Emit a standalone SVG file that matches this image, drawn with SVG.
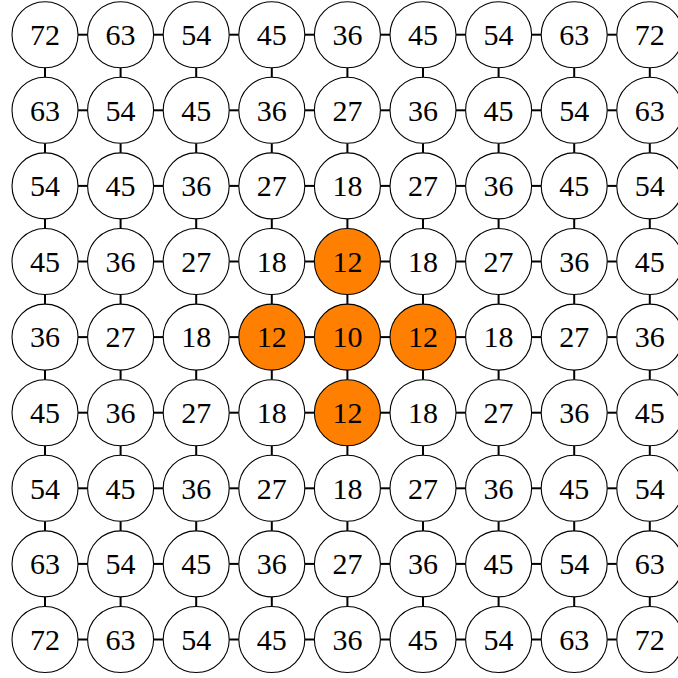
<svg xmlns="http://www.w3.org/2000/svg" width="678" height="678" viewBox="0 0 678 678">
<style>
.n circle{fill:#fff;stroke:#000;stroke-width:1.1}
.n.o circle{fill:#ff7f00}
.n text{font-family:"Liberation Serif","DejaVu Serif",serif;font-size:30px;text-anchor:middle;fill:#000}
#edges line{stroke:#000;stroke-width:2}
</style>
<rect width="678" height="678" fill="#fff"/>
<g id="edges">
<g id="h0" transform="translate(0,34.7)"><line x1="78" x2="87.6"/><line x1="153.6" x2="163.2"/><line x1="229.2" x2="238.8"/><line x1="304.8" x2="314.4"/><line x1="380.4" x2="390"/><line x1="456" x2="465.6"/><line x1="531.6" x2="541.2"/><line x1="607.2" x2="616.8"/></g>
<g id="h1" transform="translate(0,110.3)"><line x1="78" x2="87.6"/><line x1="153.6" x2="163.2"/><line x1="229.2" x2="238.8"/><line x1="304.8" x2="314.4"/><line x1="380.4" x2="390"/><line x1="456" x2="465.6"/><line x1="531.6" x2="541.2"/><line x1="607.2" x2="616.8"/></g>
<g id="h2" transform="translate(0,185.9)"><line x1="78" x2="87.6"/><line x1="153.6" x2="163.2"/><line x1="229.2" x2="238.8"/><line x1="304.8" x2="314.4"/><line x1="380.4" x2="390"/><line x1="456" x2="465.6"/><line x1="531.6" x2="541.2"/><line x1="607.2" x2="616.8"/></g>
<g id="h3" transform="translate(0,261.5)"><line x1="78" x2="87.6"/><line x1="153.6" x2="163.2"/><line x1="229.2" x2="238.8"/><line x1="304.8" x2="314.4"/><line x1="380.4" x2="390"/><line x1="456" x2="465.6"/><line x1="531.6" x2="541.2"/><line x1="607.2" x2="616.8"/></g>
<g id="h4" transform="translate(0,337.1)"><line x1="78" x2="87.6"/><line x1="153.6" x2="163.2"/><line x1="229.2" x2="238.8"/><line x1="304.8" x2="314.4"/><line x1="380.4" x2="390"/><line x1="456" x2="465.6"/><line x1="531.6" x2="541.2"/><line x1="607.2" x2="616.8"/></g>
<g id="h5" transform="translate(0,412.7)"><line x1="78" x2="87.6"/><line x1="153.6" x2="163.2"/><line x1="229.2" x2="238.8"/><line x1="304.8" x2="314.4"/><line x1="380.4" x2="390"/><line x1="456" x2="465.6"/><line x1="531.6" x2="541.2"/><line x1="607.2" x2="616.8"/></g>
<g id="h6" transform="translate(0,488.3)"><line x1="78" x2="87.6"/><line x1="153.6" x2="163.2"/><line x1="229.2" x2="238.8"/><line x1="304.8" x2="314.4"/><line x1="380.4" x2="390"/><line x1="456" x2="465.6"/><line x1="531.6" x2="541.2"/><line x1="607.2" x2="616.8"/></g>
<g id="h7" transform="translate(0,563.9)"><line x1="78" x2="87.6"/><line x1="153.6" x2="163.2"/><line x1="229.2" x2="238.8"/><line x1="304.8" x2="314.4"/><line x1="380.4" x2="390"/><line x1="456" x2="465.6"/><line x1="531.6" x2="541.2"/><line x1="607.2" x2="616.8"/></g>
<g id="h8" transform="translate(0,639.5)"><line x1="78" x2="87.6"/><line x1="153.6" x2="163.2"/><line x1="229.2" x2="238.8"/><line x1="304.8" x2="314.4"/><line x1="380.4" x2="390"/><line x1="456" x2="465.6"/><line x1="531.6" x2="541.2"/><line x1="607.2" x2="616.8"/></g>
<g id="v0" transform="translate(45,0)"><line y1="67.7" y2="77.3"/><line y1="143.3" y2="152.9"/><line y1="218.9" y2="228.5"/><line y1="294.5" y2="304.1"/><line y1="370.1" y2="379.7"/><line y1="445.7" y2="455.3"/><line y1="521.3" y2="530.9"/><line y1="596.9" y2="606.5"/></g>
<g id="v1" transform="translate(120.6,0)"><line y1="67.7" y2="77.3"/><line y1="143.3" y2="152.9"/><line y1="218.9" y2="228.5"/><line y1="294.5" y2="304.1"/><line y1="370.1" y2="379.7"/><line y1="445.7" y2="455.3"/><line y1="521.3" y2="530.9"/><line y1="596.9" y2="606.5"/></g>
<g id="v2" transform="translate(196.2,0)"><line y1="67.7" y2="77.3"/><line y1="143.3" y2="152.9"/><line y1="218.9" y2="228.5"/><line y1="294.5" y2="304.1"/><line y1="370.1" y2="379.7"/><line y1="445.7" y2="455.3"/><line y1="521.3" y2="530.9"/><line y1="596.9" y2="606.5"/></g>
<g id="v3" transform="translate(271.8,0)"><line y1="67.7" y2="77.3"/><line y1="143.3" y2="152.9"/><line y1="218.9" y2="228.5"/><line y1="294.5" y2="304.1"/><line y1="370.1" y2="379.7"/><line y1="445.7" y2="455.3"/><line y1="521.3" y2="530.9"/><line y1="596.9" y2="606.5"/></g>
<g id="v4" transform="translate(347.4,0)"><line y1="67.7" y2="77.3"/><line y1="143.3" y2="152.9"/><line y1="218.9" y2="228.5"/><line y1="294.5" y2="304.1"/><line y1="370.1" y2="379.7"/><line y1="445.7" y2="455.3"/><line y1="521.3" y2="530.9"/><line y1="596.9" y2="606.5"/></g>
<g id="v5" transform="translate(423,0)"><line y1="67.7" y2="77.3"/><line y1="143.3" y2="152.9"/><line y1="218.9" y2="228.5"/><line y1="294.5" y2="304.1"/><line y1="370.1" y2="379.7"/><line y1="445.7" y2="455.3"/><line y1="521.3" y2="530.9"/><line y1="596.9" y2="606.5"/></g>
<g id="v6" transform="translate(498.6,0)"><line y1="67.7" y2="77.3"/><line y1="143.3" y2="152.9"/><line y1="218.9" y2="228.5"/><line y1="294.5" y2="304.1"/><line y1="370.1" y2="379.7"/><line y1="445.7" y2="455.3"/><line y1="521.3" y2="530.9"/><line y1="596.9" y2="606.5"/></g>
<g id="v7" transform="translate(574.2,0)"><line y1="67.7" y2="77.3"/><line y1="143.3" y2="152.9"/><line y1="218.9" y2="228.5"/><line y1="294.5" y2="304.1"/><line y1="370.1" y2="379.7"/><line y1="445.7" y2="455.3"/><line y1="521.3" y2="530.9"/><line y1="596.9" y2="606.5"/></g>
<g id="v8" transform="translate(649.8,0)"><line y1="67.7" y2="77.3"/><line y1="143.3" y2="152.9"/><line y1="218.9" y2="228.5"/><line y1="294.5" y2="304.1"/><line y1="370.1" y2="379.7"/><line y1="445.7" y2="455.3"/><line y1="521.3" y2="530.9"/><line y1="596.9" y2="606.5"/></g>
</g>
<g id="nodes">
<g id="n0_0" class="n" transform="translate(45,34.7)"><circle r="33"/><text y="10.3">72</text></g>
<g id="n0_1" class="n" transform="translate(120.6,34.7)"><circle r="33"/><text y="10.3">63</text></g>
<g id="n0_2" class="n" transform="translate(196.2,34.7)"><circle r="33"/><text y="10.3">54</text></g>
<g id="n0_3" class="n" transform="translate(271.8,34.7)"><circle r="33"/><text y="10.3">45</text></g>
<g id="n0_4" class="n" transform="translate(347.4,34.7)"><circle r="33"/><text y="10.3">36</text></g>
<g id="n0_5" class="n" transform="translate(423,34.7)"><circle r="33"/><text y="10.3">45</text></g>
<g id="n0_6" class="n" transform="translate(498.6,34.7)"><circle r="33"/><text y="10.3">54</text></g>
<g id="n0_7" class="n" transform="translate(574.2,34.7)"><circle r="33"/><text y="10.3">63</text></g>
<g id="n0_8" class="n" transform="translate(649.8,34.7)"><circle r="33"/><text y="10.3">72</text></g>
<g id="n1_0" class="n" transform="translate(45,110.3)"><circle r="33"/><text y="10.3">63</text></g>
<g id="n1_1" class="n" transform="translate(120.6,110.3)"><circle r="33"/><text y="10.3">54</text></g>
<g id="n1_2" class="n" transform="translate(196.2,110.3)"><circle r="33"/><text y="10.3">45</text></g>
<g id="n1_3" class="n" transform="translate(271.8,110.3)"><circle r="33"/><text y="10.3">36</text></g>
<g id="n1_4" class="n" transform="translate(347.4,110.3)"><circle r="33"/><text y="10.3">27</text></g>
<g id="n1_5" class="n" transform="translate(423,110.3)"><circle r="33"/><text y="10.3">36</text></g>
<g id="n1_6" class="n" transform="translate(498.6,110.3)"><circle r="33"/><text y="10.3">45</text></g>
<g id="n1_7" class="n" transform="translate(574.2,110.3)"><circle r="33"/><text y="10.3">54</text></g>
<g id="n1_8" class="n" transform="translate(649.8,110.3)"><circle r="33"/><text y="10.3">63</text></g>
<g id="n2_0" class="n" transform="translate(45,185.9)"><circle r="33"/><text y="10.3">54</text></g>
<g id="n2_1" class="n" transform="translate(120.6,185.9)"><circle r="33"/><text y="10.3">45</text></g>
<g id="n2_2" class="n" transform="translate(196.2,185.9)"><circle r="33"/><text y="10.3">36</text></g>
<g id="n2_3" class="n" transform="translate(271.8,185.9)"><circle r="33"/><text y="10.3">27</text></g>
<g id="n2_4" class="n" transform="translate(347.4,185.9)"><circle r="33"/><text y="10.3">18</text></g>
<g id="n2_5" class="n" transform="translate(423,185.9)"><circle r="33"/><text y="10.3">27</text></g>
<g id="n2_6" class="n" transform="translate(498.6,185.9)"><circle r="33"/><text y="10.3">36</text></g>
<g id="n2_7" class="n" transform="translate(574.2,185.9)"><circle r="33"/><text y="10.3">45</text></g>
<g id="n2_8" class="n" transform="translate(649.8,185.9)"><circle r="33"/><text y="10.3">54</text></g>
<g id="n3_0" class="n" transform="translate(45,261.5)"><circle r="33"/><text y="10.3">45</text></g>
<g id="n3_1" class="n" transform="translate(120.6,261.5)"><circle r="33"/><text y="10.3">36</text></g>
<g id="n3_2" class="n" transform="translate(196.2,261.5)"><circle r="33"/><text y="10.3">27</text></g>
<g id="n3_3" class="n" transform="translate(271.8,261.5)"><circle r="33"/><text y="10.3">18</text></g>
<g id="n3_4" class="n o" transform="translate(347.4,261.5)"><circle r="33"/><text y="10.3">12</text></g>
<g id="n3_5" class="n" transform="translate(423,261.5)"><circle r="33"/><text y="10.3">18</text></g>
<g id="n3_6" class="n" transform="translate(498.6,261.5)"><circle r="33"/><text y="10.3">27</text></g>
<g id="n3_7" class="n" transform="translate(574.2,261.5)"><circle r="33"/><text y="10.3">36</text></g>
<g id="n3_8" class="n" transform="translate(649.8,261.5)"><circle r="33"/><text y="10.3">45</text></g>
<g id="n4_0" class="n" transform="translate(45,337.1)"><circle r="33"/><text y="10.3">36</text></g>
<g id="n4_1" class="n" transform="translate(120.6,337.1)"><circle r="33"/><text y="10.3">27</text></g>
<g id="n4_2" class="n" transform="translate(196.2,337.1)"><circle r="33"/><text y="10.3">18</text></g>
<g id="n4_3" class="n o" transform="translate(271.8,337.1)"><circle r="33"/><text y="10.3">12</text></g>
<g id="n4_4" class="n o" transform="translate(347.4,337.1)"><circle r="33"/><text y="10.3">10</text></g>
<g id="n4_5" class="n o" transform="translate(423,337.1)"><circle r="33"/><text y="10.3">12</text></g>
<g id="n4_6" class="n" transform="translate(498.6,337.1)"><circle r="33"/><text y="10.3">18</text></g>
<g id="n4_7" class="n" transform="translate(574.2,337.1)"><circle r="33"/><text y="10.3">27</text></g>
<g id="n4_8" class="n" transform="translate(649.8,337.1)"><circle r="33"/><text y="10.3">36</text></g>
<g id="n5_0" class="n" transform="translate(45,412.7)"><circle r="33"/><text y="10.3">45</text></g>
<g id="n5_1" class="n" transform="translate(120.6,412.7)"><circle r="33"/><text y="10.3">36</text></g>
<g id="n5_2" class="n" transform="translate(196.2,412.7)"><circle r="33"/><text y="10.3">27</text></g>
<g id="n5_3" class="n" transform="translate(271.8,412.7)"><circle r="33"/><text y="10.3">18</text></g>
<g id="n5_4" class="n o" transform="translate(347.4,412.7)"><circle r="33"/><text y="10.3">12</text></g>
<g id="n5_5" class="n" transform="translate(423,412.7)"><circle r="33"/><text y="10.3">18</text></g>
<g id="n5_6" class="n" transform="translate(498.6,412.7)"><circle r="33"/><text y="10.3">27</text></g>
<g id="n5_7" class="n" transform="translate(574.2,412.7)"><circle r="33"/><text y="10.3">36</text></g>
<g id="n5_8" class="n" transform="translate(649.8,412.7)"><circle r="33"/><text y="10.3">45</text></g>
<g id="n6_0" class="n" transform="translate(45,488.3)"><circle r="33"/><text y="10.3">54</text></g>
<g id="n6_1" class="n" transform="translate(120.6,488.3)"><circle r="33"/><text y="10.3">45</text></g>
<g id="n6_2" class="n" transform="translate(196.2,488.3)"><circle r="33"/><text y="10.3">36</text></g>
<g id="n6_3" class="n" transform="translate(271.8,488.3)"><circle r="33"/><text y="10.3">27</text></g>
<g id="n6_4" class="n" transform="translate(347.4,488.3)"><circle r="33"/><text y="10.3">18</text></g>
<g id="n6_5" class="n" transform="translate(423,488.3)"><circle r="33"/><text y="10.3">27</text></g>
<g id="n6_6" class="n" transform="translate(498.6,488.3)"><circle r="33"/><text y="10.3">36</text></g>
<g id="n6_7" class="n" transform="translate(574.2,488.3)"><circle r="33"/><text y="10.3">45</text></g>
<g id="n6_8" class="n" transform="translate(649.8,488.3)"><circle r="33"/><text y="10.3">54</text></g>
<g id="n7_0" class="n" transform="translate(45,563.9)"><circle r="33"/><text y="10.3">63</text></g>
<g id="n7_1" class="n" transform="translate(120.6,563.9)"><circle r="33"/><text y="10.3">54</text></g>
<g id="n7_2" class="n" transform="translate(196.2,563.9)"><circle r="33"/><text y="10.3">45</text></g>
<g id="n7_3" class="n" transform="translate(271.8,563.9)"><circle r="33"/><text y="10.3">36</text></g>
<g id="n7_4" class="n" transform="translate(347.4,563.9)"><circle r="33"/><text y="10.3">27</text></g>
<g id="n7_5" class="n" transform="translate(423,563.9)"><circle r="33"/><text y="10.3">36</text></g>
<g id="n7_6" class="n" transform="translate(498.6,563.9)"><circle r="33"/><text y="10.3">45</text></g>
<g id="n7_7" class="n" transform="translate(574.2,563.9)"><circle r="33"/><text y="10.3">54</text></g>
<g id="n7_8" class="n" transform="translate(649.8,563.9)"><circle r="33"/><text y="10.3">63</text></g>
<g id="n8_0" class="n" transform="translate(45,639.5)"><circle r="33"/><text y="10.3">72</text></g>
<g id="n8_1" class="n" transform="translate(120.6,639.5)"><circle r="33"/><text y="10.3">63</text></g>
<g id="n8_2" class="n" transform="translate(196.2,639.5)"><circle r="33"/><text y="10.3">54</text></g>
<g id="n8_3" class="n" transform="translate(271.8,639.5)"><circle r="33"/><text y="10.3">45</text></g>
<g id="n8_4" class="n" transform="translate(347.4,639.5)"><circle r="33"/><text y="10.3">36</text></g>
<g id="n8_5" class="n" transform="translate(423,639.5)"><circle r="33"/><text y="10.3">45</text></g>
<g id="n8_6" class="n" transform="translate(498.6,639.5)"><circle r="33"/><text y="10.3">54</text></g>
<g id="n8_7" class="n" transform="translate(574.2,639.5)"><circle r="33"/><text y="10.3">63</text></g>
<g id="n8_8" class="n" transform="translate(649.8,639.5)"><circle r="33"/><text y="10.3">72</text></g>
</g>
</svg>
